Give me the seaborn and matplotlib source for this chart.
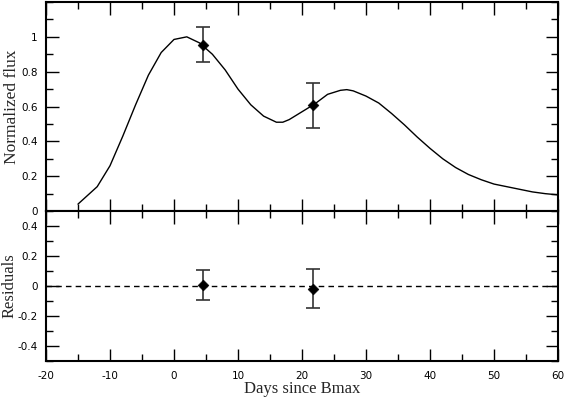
import numpy as np
import pandas as pd
import seaborn as sns
import matplotlib.pyplot as plt
from matplotlib.ticker import MultipleLocator

sns.set_style('ticks')
plt.rcParams['font.family'] = ['DejaVu Sans']

# Model light curve
days = [-15, -12, -10, -8, -6, -4, -2, 0, 2, 4, 6, 8, 10, 12, 14, 16, 17, 18, 20,
        22, 24, 26, 27, 28, 30, 32, 34, 36, 38, 40, 42, 44, 46, 48, 50, 52, 54, 56, 58, 60]
flux = [0.04, 0.14, 0.26, 0.43, 0.61, 0.78, 0.91, 0.985, 1.0, 0.965, 0.90, 0.81, 0.70,
        0.61, 0.545, 0.51, 0.51, 0.525, 0.57, 0.615, 0.67, 0.693, 0.697, 0.69, 0.66,
        0.62, 0.56, 0.495, 0.425, 0.36, 0.30, 0.25, 0.21, 0.18, 0.155, 0.14, 0.125,
        0.11, 0.10, 0.093]

# Observations
obs_day = [4.6, 21.7]
obs_flux = [0.955, 0.607]
obs_err = [0.10, 0.13]
resid = [0.005, -0.017]

curve = pd.DataFrame({'day': days, 'flux': flux})
obs = pd.DataFrame({'day': obs_day, 'flux': obs_flux, 'err': obs_err, 'resid': resid})

fig = plt.figure(figsize=(5.65, 3.99), dpi=100)
ax1 = fig.add_axes([0.0814, 0.471, 0.9062, 0.524])
ax2 = fig.add_axes([0.0814, 0.0952, 0.9062, 0.3758], sharex=ax1)

sns.lineplot(data=curve, x='day', y='flux', ax=ax1, color='black', lw=1.0)
ax1.errorbar(obs['day'], obs['flux'], yerr=obs['err'], fmt='none', ecolor='#333333',
             elinewidth=1.2, capsize=5, capthick=1.2)
sns.scatterplot(data=obs, x='day', y='flux', ax=ax1, marker='D', s=30, color='black',
                edgecolor='black', zorder=5)

ax2.axhline(0, color='black', lw=1.0, ls=(0, (4, 3)))
ax2.errorbar(obs['day'], obs['resid'], yerr=obs['err'], fmt='none', ecolor='#333333',
             elinewidth=1.2, capsize=5, capthick=1.2)
sns.scatterplot(data=obs, x='day', y='resid', ax=ax2, marker='D', s=30, color='black',
                edgecolor='black', zorder=5)

ax1.set_xlim(-20, 60)
ax1.set_ylim(0, 1.2)
ax2.set_ylim(-0.5, 0.5)

ax1.yaxis.set_minor_locator(MultipleLocator(0.1))
ax2.yaxis.set_minor_locator(MultipleLocator(0.1))
ax2.xaxis.set_minor_locator(MultipleLocator(5))

ax1.set_yticks([0, 0.2, 0.4, 0.6, 0.8, 1.0])
ax1.set_yticklabels(['0', '0.2', '0.4', '0.6', '0.8', '1'])
ax2.set_yticks([-0.4, -0.2, 0, 0.2, 0.4])
ax2.set_yticklabels(['-0.4', '-0.2', '0', '0.2', '0.4'])
ax2.set_xticks([-20, -10, 0, 10, 20, 30, 40, 50, 60])
ax2.set_xticklabels(['-20', '-10', '0', '10', '20', '30', '40', '50', '60'])

for ax in (ax1, ax2):
    for s in ax.spines.values():
        s.set_linewidth(1.5)
        s.set_color('black')
    ax.tick_params(which='both', direction='in', top=True, right=True,
                   labelsize=7.5, colors='black', width=1.0)
    ax.tick_params(which='major', length=9)
    ax.tick_params(which='minor', length=5)
    ax.tick_params(axis='y', which='both', pad=6)
    ax.tick_params(axis='x', which='both', pad=7.5)
    ax.set_xlabel('')
    ax.set_ylabel('')

ax1.tick_params(labelbottom=False)

serif = ['Liberation Serif', 'DejaVu Serif']
ax1.set_ylabel('Normalized flux', family=serif, fontsize=12.5)
ax2.set_ylabel('Residuals', family=serif, fontsize=12)
ax2.set_xlabel('Days since Bmax', family=serif, fontsize=12, labelpad=0)
ax1.yaxis.set_label_coords(-0.051, 0.5)
ax2.yaxis.set_label_coords(-0.056, 0.5)

plt.savefig('out.png', dpi=100)
